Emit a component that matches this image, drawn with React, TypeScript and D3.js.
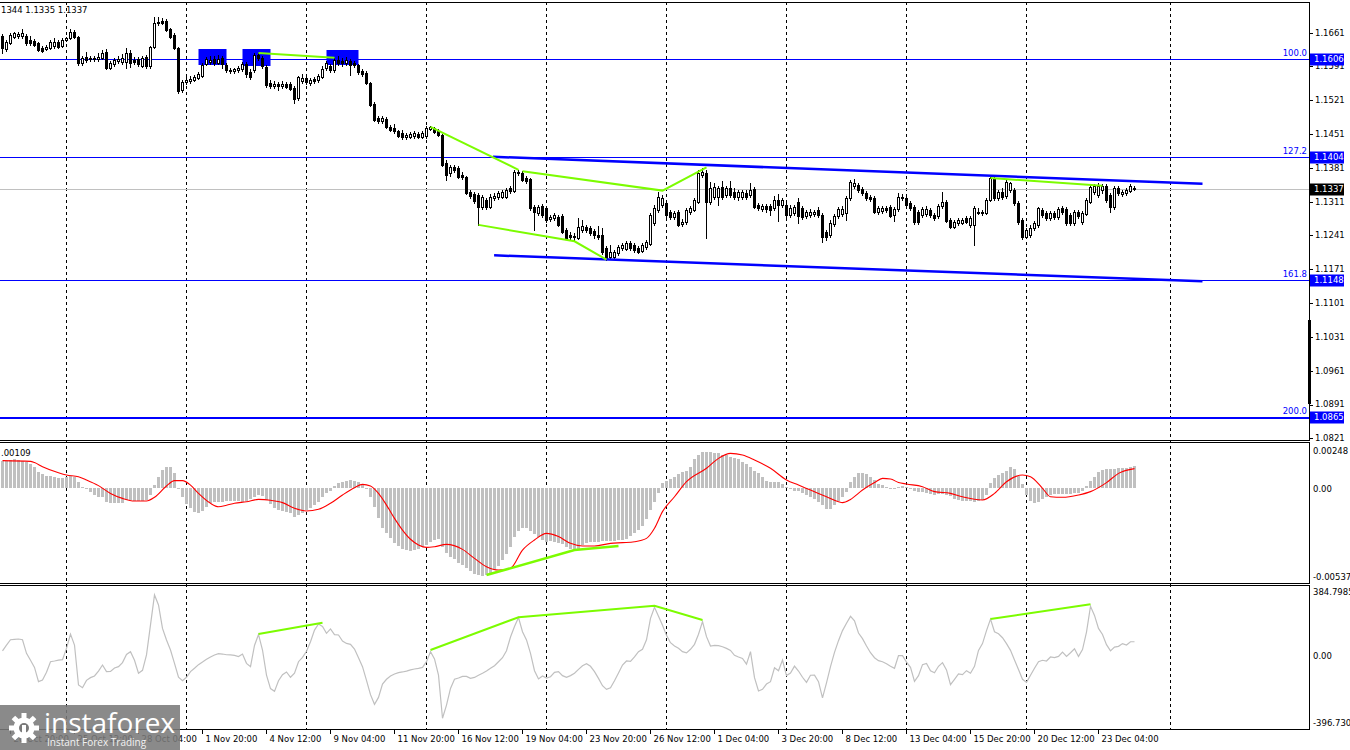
import React from 'react';
import * as d3 from 'd3';

// ---------------- DATA ----------------
const openP = [
1.1654,1.1628,1.1640,1.1652,1.1654,1.1654,1.1654,1.1646,1.1644,1.1640,
1.1630,1.1628,1.1630,1.1634,1.1642,1.1634,1.1646,1.1650,1.1663,1.1652,
1.1599,1.1611,1.1607,1.1609,1.1607,1.1609,1.1621,1.1588,1.1597,1.1603,
1.1601,1.1601,1.1619,1.1605,1.1607,1.1592,1.1611,1.1592,1.1632,1.1681,
1.1686,1.1686,1.1669,1.1657,1.1630,1.1543,1.1559,1.1561,1.1563,1.1568,
1.1572,1.1597,1.1601,1.1607,1.1599,1.1609,1.1594,1.1584,1.1582,1.1584,
1.1586,1.1597,1.1580,1.1584,1.1615,1.1609,1.1590,1.1557,1.1551,1.1555,
1.1551,1.1555,1.1555,1.1547,1.1526,1.1561,1.1568,1.1557,1.1565,1.1563,
1.1570,1.1588,1.1592,1.1584,1.1605,1.1603,1.1599,1.1603,1.1599,1.1594,
1.1582,1.1578,1.1557,1.1514,1.1485,1.1479,1.1483,1.1466,1.1464,1.1458,
1.1454,1.1445,1.1445,1.1447,1.1452,1.1445,1.1447,1.1462,1.1464,1.1458,
1.1450,1.1392,1.1371,1.1383,1.1381,1.1367,1.1363,1.1332,1.1327,1.1325,
1.1301,1.1315,1.1301,1.1319,1.1321,1.1321,1.1321,1.1340,1.1334,1.1373,
1.1371,1.1361,1.1358,1.1301,1.1288,1.1303,1.1298,1.1276,1.1278,1.1280,
1.1282,1.1253,1.1243,1.1238,1.1236,1.1253,1.1259,1.1257,1.1251,1.1243,
1.1243,1.1216,1.1197,1.1197,1.1205,1.1216,1.1214,1.1226,1.1222,1.1216,
1.1209,1.1218,1.1224,1.1267,1.1294,1.1305,1.1309,1.1290,1.1280,1.1290,
1.1265,1.1269,1.1290,1.1294,1.1311,1.1367,1.1371,1.1311,1.1321,1.1321,
1.1342,1.1325,1.1340,1.1332,1.1321,1.1321,1.1329,1.1325,1.1338,1.1305,
1.1296,1.1303,1.1303,1.1298,1.1315,1.1305,1.1305,1.1284,1.1288,1.1311,
1.1298,1.1282,1.1284,1.1286,1.1294,1.1284,1.1249,1.1243,1.1265,1.1282,
1.1286,1.1288,1.1319,1.1344,1.1346,1.1338,1.1329,1.1321,1.1319,1.1290,
1.1292,1.1298,1.1301,1.1284,1.1296,1.1321,1.1319,1.1309,1.1301,1.1290,
1.1284,1.1286,1.1294,1.1284,1.1282,1.1303,1.1311,1.1274,1.1259,1.1267,
1.1267,1.1278,1.1263,1.1263,1.1288,1.1288,1.1288,1.1315,1.1361,1.1319,
1.1332,1.1323,1.1336,1.1336,1.1309,1.1274,1.1238,1.1243,1.1257,1.1263,
1.1294,1.1288,1.1278,1.1288,1.1280,1.1298,1.1296,1.1284,1.1267,1.1290,
1.1269,1.1286,1.1311,1.1332,1.1325,1.1336,1.1344,1.1325,1.1301,1.1340,
1.1327,1.1329,1.1334,1.1340
];
const highP = [
1.1659,1.1646,1.1661,1.1663,1.1663,1.1669,1.1659,1.1654,1.1648,1.1642,
1.1634,1.1636,1.1646,1.1650,1.1646,1.1650,1.1652,1.1669,1.1667,1.1654,
1.1613,1.1621,1.1613,1.1613,1.1619,1.1626,1.1628,1.1603,1.1609,1.1613,
1.1617,1.1630,1.1626,1.1611,1.1611,1.1613,1.1615,1.1634,1.1694,1.1694,
1.1692,1.1690,1.1671,1.1661,1.1632,1.1563,1.1570,1.1572,1.1574,1.1580,
1.1599,1.1611,1.1613,1.1613,1.1615,1.1613,1.1599,1.1588,1.1588,1.1592,
1.1601,1.1601,1.1586,1.1619,1.1619,1.1613,1.1594,1.1563,1.1561,1.1559,
1.1561,1.1559,1.1559,1.1551,1.1572,1.1576,1.1574,1.1568,1.1570,1.1576,
1.1592,1.1603,1.1597,1.1609,1.1613,1.1609,1.1611,1.1607,1.1603,1.1597,
1.1586,1.1582,1.1559,1.1518,1.1489,1.1489,1.1487,1.1470,1.1472,1.1460,
1.1460,1.1454,1.1456,1.1458,1.1456,1.1458,1.1468,1.1468,1.1466,1.1462,
1.1452,1.1398,1.1387,1.1387,1.1385,1.1373,1.1365,1.1336,1.1332,1.1329,
1.1325,1.1319,1.1327,1.1329,1.1334,1.1336,1.1340,1.1344,1.1377,1.1377,
1.1375,1.1365,1.1361,1.1305,1.1305,1.1307,1.1301,1.1284,1.1288,1.1284,
1.1286,1.1257,1.1249,1.1247,1.1278,1.1274,1.1263,1.1261,1.1255,1.1261,
1.1257,1.1220,1.1222,1.1212,1.1222,1.1226,1.1230,1.1230,1.1226,1.1220,
1.1226,1.1232,1.1288,1.1305,1.1332,1.1325,1.1315,1.1294,1.1292,1.1294,
1.1276,1.1298,1.1303,1.1319,1.1377,1.1381,1.1377,1.1352,1.1350,1.1344,
1.1354,1.1344,1.1354,1.1340,1.1336,1.1336,1.1336,1.1350,1.1342,1.1309,
1.1307,1.1307,1.1307,1.1323,1.1327,1.1319,1.1309,1.1305,1.1305,1.1319,
1.1303,1.1294,1.1296,1.1294,1.1301,1.1288,1.1253,1.1274,1.1286,1.1301,
1.1303,1.1323,1.1356,1.1358,1.1350,1.1342,1.1334,1.1325,1.1323,1.1303,
1.1303,1.1303,1.1305,1.1301,1.1329,1.1327,1.1323,1.1313,1.1305,1.1294,
1.1301,1.1303,1.1298,1.1288,1.1307,1.1332,1.1315,1.1278,1.1274,1.1278,
1.1278,1.1282,1.1282,1.1303,1.1298,1.1294,1.1319,1.1363,1.1365,1.1336,
1.1340,1.1356,1.1352,1.1340,1.1313,1.1278,1.1257,1.1263,1.1272,1.1301,
1.1298,1.1292,1.1292,1.1292,1.1301,1.1303,1.1301,1.1288,1.1294,1.1294,
1.1292,1.1319,1.1348,1.1348,1.1350,1.1348,1.1348,1.1329,1.1344,1.1344,
1.1336,1.1340,1.1348,1.1344
];
const lowP = [
1.1619,1.1623,1.1638,1.1650,1.1650,1.1650,1.1636,1.1636,1.1634,1.1623,
1.1621,1.1626,1.1628,1.1630,1.1630,1.1632,1.1644,1.1648,1.1650,1.1594,
1.1594,1.1601,1.1603,1.1603,1.1603,1.1607,1.1586,1.1586,1.1592,1.1599,
1.1597,1.1588,1.1590,1.1597,1.1592,1.1590,1.1588,1.1588,1.1630,1.1677,
1.1679,1.1665,1.1650,1.1628,1.1536,1.1539,1.1555,1.1557,1.1561,1.1565,
1.1570,1.1594,1.1597,1.1594,1.1597,1.1588,1.1580,1.1578,1.1578,1.1580,
1.1582,1.1570,1.1565,1.1580,1.1605,1.1588,1.1549,1.1547,1.1547,1.1543,
1.1547,1.1547,1.1543,1.1516,1.1522,1.1557,1.1555,1.1553,1.1557,1.1559,
1.1568,1.1584,1.1580,1.1580,1.1594,1.1592,1.1594,1.1574,1.1590,1.1576,
1.1572,1.1555,1.1510,1.1479,1.1474,1.1474,1.1464,1.1458,1.1454,1.1445,
1.1441,1.1441,1.1443,1.1443,1.1443,1.1443,1.1443,1.1460,1.1454,1.1447,
1.1385,1.1356,1.1365,1.1373,1.1361,1.1358,1.1327,1.1319,1.1309,1.1263,
1.1296,1.1296,1.1298,1.1315,1.1317,1.1319,1.1319,1.1329,1.1332,1.1367,
1.1354,1.1350,1.1294,1.1253,1.1284,1.1280,1.1269,1.1272,1.1274,1.1261,
1.1247,1.1234,1.1234,1.1232,1.1234,1.1249,1.1249,1.1243,1.1236,1.1234,
1.1203,1.1191,1.1193,1.1195,1.1201,1.1212,1.1212,1.1212,1.1207,1.1205,
1.1207,1.1214,1.1222,1.1263,1.1290,1.1301,1.1280,1.1276,1.1276,1.1261,
1.1261,1.1265,1.1286,1.1292,1.1309,1.1363,1.1236,1.1307,1.1317,1.1305,
1.1317,1.1321,1.1321,1.1317,1.1315,1.1317,1.1317,1.1321,1.1298,1.1294,
1.1292,1.1290,1.1284,1.1294,1.1272,1.1301,1.1280,1.1280,1.1284,1.1267,
1.1276,1.1278,1.1280,1.1282,1.1280,1.1228,1.1232,1.1238,1.1261,1.1278,
1.1282,1.1274,1.1315,1.1340,1.1332,1.1325,1.1315,1.1313,1.1288,1.1286,
1.1288,1.1290,1.1280,1.1272,1.1292,1.1315,1.1301,1.1294,1.1265,1.1265,
1.1280,1.1282,1.1280,1.1274,1.1278,1.1298,1.1269,1.1257,1.1257,1.1263,
1.1265,1.1267,1.1259,1.1222,1.1286,1.1284,1.1286,1.1313,1.1315,1.1315,
1.1317,1.1319,1.1332,1.1305,1.1265,1.1234,1.1236,1.1238,1.1253,1.1259,
1.1280,1.1274,1.1274,1.1276,1.1276,1.1286,1.1263,1.1263,1.1263,1.1278,
1.1265,1.1284,1.1309,1.1327,1.1321,1.1329,1.1311,1.1290,1.1296,1.1325,
1.1323,1.1325,1.1332,1.1335
];
const closeP = [
1.1630,1.1642,1.1657,1.1661,1.1659,1.1661,1.1640,1.1640,1.1636,1.1626,
1.1623,1.1632,1.1642,1.1642,1.1632,1.1646,1.1650,1.1663,1.1652,1.1599,
1.1609,1.1605,1.1609,1.1607,1.1611,1.1619,1.1588,1.1599,1.1605,1.1607,
1.1609,1.1619,1.1599,1.1601,1.1597,1.1609,1.1592,1.1632,1.1681,1.1683,
1.1681,1.1667,1.1652,1.1630,1.1541,1.1559,1.1563,1.1565,1.1570,1.1576,
1.1594,1.1607,1.1605,1.1599,1.1607,1.1597,1.1584,1.1582,1.1586,1.1588,
1.1597,1.1576,1.1570,1.1615,1.1609,1.1592,1.1553,1.1551,1.1555,1.1551,
1.1555,1.1549,1.1545,1.1524,1.1570,1.1568,1.1559,1.1563,1.1561,1.1572,
1.1586,1.1599,1.1584,1.1605,1.1599,1.1599,1.1605,1.1594,1.1594,1.1580,
1.1576,1.1557,1.1512,1.1481,1.1479,1.1485,1.1466,1.1460,1.1458,1.1447,
1.1445,1.1450,1.1452,1.1454,1.1445,1.1454,1.1464,1.1466,1.1456,1.1450,
1.1387,1.1367,1.1383,1.1377,1.1363,1.1363,1.1329,1.1323,1.1313,1.1301,
1.1321,1.1301,1.1321,1.1323,1.1329,1.1332,1.1336,1.1334,1.1373,1.1371,
1.1356,1.1354,1.1298,1.1290,1.1301,1.1284,1.1274,1.1280,1.1284,1.1263,
1.1249,1.1236,1.1238,1.1240,1.1259,1.1261,1.1253,1.1247,1.1243,1.1238,
1.1207,1.1195,1.1207,1.1207,1.1218,1.1222,1.1226,1.1216,1.1212,1.1207,
1.1222,1.1228,1.1284,1.1298,1.1321,1.1319,1.1284,1.1280,1.1288,1.1263,
1.1269,1.1294,1.1298,1.1315,1.1371,1.1373,1.1311,1.1340,1.1342,1.1340,
1.1321,1.1340,1.1325,1.1321,1.1332,1.1332,1.1321,1.1336,1.1301,1.1298,
1.1303,1.1296,1.1294,1.1315,1.1305,1.1315,1.1284,1.1298,1.1301,1.1282,
1.1280,1.1290,1.1290,1.1290,1.1284,1.1238,1.1238,1.1267,1.1282,1.1296,
1.1296,1.1319,1.1352,1.1350,1.1336,1.1329,1.1319,1.1317,1.1290,1.1298,
1.1298,1.1294,1.1282,1.1296,1.1321,1.1319,1.1305,1.1298,1.1269,1.1269,
1.1296,1.1296,1.1284,1.1278,1.1303,1.1311,1.1272,1.1259,1.1269,1.1274,
1.1274,1.1269,1.1278,1.1298,1.1290,1.1290,1.1315,1.1361,1.1319,1.1332,
1.1321,1.1352,1.1350,1.1309,1.1269,1.1238,1.1253,1.1257,1.1267,1.1298,
1.1284,1.1278,1.1288,1.1280,1.1296,1.1290,1.1267,1.1267,1.1290,1.1282,
1.1288,1.1315,1.1342,1.1344,1.1344,1.1344,1.1315,1.1301,1.1340,1.1329,
1.1332,1.1336,1.1344,1.1337
];

const macdHist = [
0.00152,0.00154,0.00156,0.00161,0.00158,0.00154,0.00148,0.00135,0.00116,0.00092,
0.00079,0.00067,0.00067,0.00063,0.00058,0.00058,0.00063,0.00067,0.00060,0.00035,
0.00007,-0.00008,-0.00021,-0.00040,-0.00050,-0.00053,-0.00078,-0.00083,-0.00083,-0.00087,
-0.00087,-0.00068,-0.00068,-0.00074,-0.00072,-0.00072,-0.00068,-0.00040,0.00016,0.00063,
0.00101,0.00120,0.00116,0.00086,0.00001,-0.00050,-0.00091,-0.00115,-0.00134,-0.00144,
-0.00131,-0.00106,-0.00087,-0.00080,-0.00078,-0.00078,-0.00076,-0.00074,-0.00074,-0.00076,
-0.00078,-0.00072,-0.00065,-0.00050,-0.00040,-0.00046,-0.00068,-0.00091,-0.00115,-0.00125,
-0.00131,-0.00134,-0.00144,-0.00166,-0.00153,-0.00140,-0.00125,-0.00115,-0.00097,-0.00078,
-0.00050,-0.00031,-0.00016,0.00011,0.00026,0.00035,0.00041,0.00045,0.00041,0.00033,
0.00022,-0.00002,-0.00050,-0.00106,-0.00172,-0.00228,-0.00253,-0.00285,-0.00309,-0.00328,
-0.00343,-0.00351,-0.00356,-0.00351,-0.00343,-0.00332,-0.00321,-0.00304,-0.00294,-0.00289,
-0.00336,-0.00370,-0.00388,-0.00403,-0.00422,-0.00435,-0.00450,-0.00469,-0.00484,-0.00492,
-0.00498,-0.00494,-0.00479,-0.00464,-0.00439,-0.00407,-0.00373,-0.00332,-0.00279,-0.00245,
-0.00227,-0.00228,-0.00245,-0.00260,-0.00277,-0.00294,-0.00304,-0.00302,-0.00304,-0.00309,
-0.00319,-0.00336,-0.00347,-0.00351,-0.00343,-0.00321,-0.00311,-0.00307,-0.00304,-0.00304,
-0.00300,-0.00300,-0.00300,-0.00298,-0.00296,-0.00292,-0.00287,-0.00274,-0.00257,-0.00240,
-0.00215,-0.00178,-0.00125,-0.00078,-0.00027,0.00026,0.00041,0.00048,0.00060,0.00077,
0.00088,0.00097,0.00120,0.00161,0.00186,0.00203,0.00205,0.00201,0.00199,0.00195,
0.00186,0.00184,0.00176,0.00169,0.00161,0.00148,0.00135,0.00120,0.00097,0.00082,
0.00063,0.00041,0.00035,0.00035,0.00033,0.00022,0.00005,-0.00008,-0.00016,-0.00019,
-0.00027,-0.00040,-0.00053,-0.00063,-0.00082,-0.00097,-0.00119,-0.00117,-0.00097,-0.00072,
-0.00050,-0.00021,0.00035,0.00063,0.00082,0.00082,0.00079,0.00063,0.00043,0.00024,
0.00014,0.00003,-0.00006,-0.00004,0.00005,0.00009,0.00007,-0.00004,-0.00016,-0.00021,
-0.00025,-0.00029,-0.00036,-0.00038,-0.00034,-0.00036,-0.00040,-0.00048,-0.00061,-0.00068,
-0.00072,-0.00074,-0.00076,-0.00078,-0.00074,-0.00070,-0.00040,0.00026,0.00056,0.00071,
0.00086,0.00097,0.00118,0.00105,0.00067,0.00022,-0.00040,-0.00072,-0.00083,-0.00078,
-0.00065,-0.00051,-0.00042,-0.00034,-0.00033,-0.00034,-0.00036,-0.00034,-0.00031,-0.00027,
-0.00018,0.00011,0.00037,0.00060,0.00088,0.00101,0.00105,0.00105,0.00109,0.00112,
0.00114,0.00114,0.00120,0.00124
];

const signalBars = [0,7,8,10,14,16,19,21,24,27,30,33,36,38,41,43,45,47,49,52,54,56,58,61,64,67,70,73,76,79,82,85,88,90,92,94,96,98,100,102,104,106,108,111,115,118,121,124,127,130,133,136,139,142,145,148,152,155,158,161,163,165,168,171,176,179,182,185,188,192,196,199,202,206,209,210,212,215,218,220,222,224,226,230,233,237,240,245,248,251,255,257,260,262,265,269,272,276,279,283];
const signalVals = [0.00154,0.00150,0.00143,0.00120,0.00086,0.00073,0.00063,0.00045,0.00013,-0.00031,-0.00059,-0.00074,-0.00074,-0.00053,0.00011,0.00041,0.00041,0.00016,-0.00031,-0.00087,-0.00106,-0.00098,-0.00087,-0.00078,-0.00065,-0.00070,-0.00083,-0.00115,-0.00130,-0.00121,-0.00087,-0.00040,0.00001,0.00020,0.00011,-0.00031,-0.00097,-0.00172,-0.00238,-0.00290,-0.00322,-0.00336,-0.00332,-0.00319,-0.00347,-0.00398,-0.00445,-0.00464,-0.00454,-0.00351,-0.00294,-0.00257,-0.00275,-0.00313,-0.00328,-0.00328,-0.00313,-0.00309,-0.00304,-0.00285,-0.00228,-0.00134,-0.00050,0.00035,0.00111,0.00167,0.00195,0.00186,0.00158,0.00111,0.00045,0.00016,-0.00012,-0.00050,-0.00078,-0.00083,-0.00065,-0.00012,0.00030,0.00054,0.00050,0.00031,0.00022,0.00007,-0.00021,-0.00031,-0.00050,-0.00068,-0.00031,0.00035,0.00073,0.00063,-0.00002,-0.00050,-0.00053,-0.00040,-0.00021,0.00030,0.00082,0.00109];

const cciVals = [
30,62,91,93,95,91,17,-21,-60,-138,
-129,-87,-29,-25,-20,-18,44,122,62,-156,
-171,-131,-116,-107,-80,-47,-83,-82,-63,-56,
-34,11,26,-21,-92,-76,8,172,336,281,
153,90,35,-38,-114,-133,-114,-83,-65,-45,
-31,-16,-3,8,15,13,9,8,6,-1,
13,-38,-56,60,120,35,-102,-176,-191,-133,
-100,-85,-114,-92,-29,-5,28,80,144,177,
164,126,150,119,117,84,71,66,40,-7,
-56,-131,-209,-262,-224,-151,-125,-107,-96,-89,
-85,-80,-74,-69,-65,-60,-29,26,-14,-102,
-338,-266,-175,-125,-118,-109,-109,-120,-115,-103,
-92,-80,-65,-51,-29,-7,31,106,163,212,
135,90,17,-78,-123,-107,-118,-111,-87,-83,
-105,-114,-105,-92,-71,-51,-40,-54,-83,-120,
-160,-180,-171,-133,-91,-47,-25,-27,-3,26,
39,91,208,268,219,170,115,75,57,44,
26,19,39,66,121,190,108,57,60,59,
53,44,33,6,-3,-11,-42,26,-116,-189,
-180,-151,-138,-62,-78,-20,-105,-91,-53,-80,
-114,-142,-103,-102,-138,-227,-145,-56,22,86,
141,181,219,195,128,97,57,20,-7,-23,
-29,-40,-54,-65,4,4,-31,-60,-136,-105,
-45,-38,-78,-89,-54,-34,-74,-154,-125,-96,
-100,-78,-92,-54,33,70,141,204,135,124,
102,70,33,-20,-72,-125,-142,-103,-65,-29,
-21,-25,-3,-7,0,24,0,20,42,0,
37,133,274,224,153,120,64,30,51,55,
70,62,80,80
];

const priceTicks = [1.1661,1.1591,1.1521,1.1451,1.1381,1.1311,1.1241,1.1171,1.1101,1.1031,1.0961,1.0891,1.0821];
const fiboNames = ['100.0','127.2','161.8','200.0'];
const fiboPrices = [1.1606,1.1404,1.1148,1.0865];
const lastPrice = 1.1337;
const ohlcText = '1344 1.1335 1.1337';
const macdText = '.00109';
const macdRange = [-0.00537, 0.00248];
const macdLabels = ['0.00248','0.00','-0.00537'];
const cciRange = [-396.73, 384.7985];
const cciLabels = ['384.7985','0.00','-396.730'];

const timeLabelBars = [2,18,34,50,66,82,98,114,130,146,162,178,194,210,226,242,258,274];
const timeLabels = ['20 Oct 20:00','25 Oct 12:00','28 Oct 04:00','1 Nov 20:00','4 Nov 12:00','9 Nov 04:00','11 Nov 20:00','16 Nov 12:00','19 Nov 04:00','23 Nov 20:00','26 Nov 12:00','1 Dec 04:00','3 Dec 20:00','8 Dec 12:00','13 Dec 04:00','15 Dec 20:00','20 Dec 12:00','23 Dec 04:00'];
const gridBars = [16,46,76,106,136,166,196,226,256,292];

const boxStartBars = [49,60,81];
const boxEndBars = [56,67,89];
const boxTopP = [1.1628,1.1628,1.1626];
const boxBottomP = [1.1594,1.1592,1.1594];

const greenPriceLines: [number, number][][] = [
  [[64,1.1619],[83,1.1609]],
  [[107,1.1466],[129,1.1377]],
  [[130,1.1374],[165,1.1334],[176,1.1382]],
  [[119,1.1263],[143,1.1229],[151,1.1191]],
  [[247,1.1360],[275,1.1344]],
];
const channelUpper: [number, number][] = [[122.6,1.1404],[300,1.1348]];
const channelLower: [number, number][] = [[122.9,1.1200],[300,1.1146]];
const greenMacd: [number, number][] = [[121,-0.00492],[143,-0.00351],[154,-0.00328]];
const greenCci: [number, number][][] = [
  [[64,122],[80,184]],
  [[107,35],[129,214],[163,277],[175,199]],
  [[247,204],[272,285]],
];
const axisMarkerP = [1.1066, 1.0892];

// ---------------- CHART ----------------
const FONT = "'DejaVu Sans', Verdana, sans-serif";
const R = 1309; // right edge of plot area
const MAIN = { top: 2, bottom: 440 };
const MACD = { top: 442, bottom: 583 };
const CCI = { top: 585, bottom: 729 };

export default function App() {
  const x = d3.scaleLinear().domain([0, 1]).range([2.5, 6.5]);
  const yP = d3.scaleLinear().domain([priceTicks[priceTicks.length - 1], priceTicks[0]]).range([438.3, 32.7]);
  const yM = d3.scaleLinear().domain(macdRange).range([MACD.bottom, MACD.top + 2]);
  const yC = d3.scaleLinear().domain(cciRange).range([CCI.bottom, CCI.top + 1]);
  const bars = d3.range(closeP.length);

  const priceLine = d3.line<[number, number]>().x(d => x(d[0])).y(d => yP(d[1]));
  const macdLine = d3.line<[number, number]>().x(d => x(d[0])).y(d => yM(d[1]));
  const cciLine = d3.line<[number, number]>().x(d => x(d[0])).y(d => yC(d[1]));
  const signalPath = d3.line<number>().x((_, i) => x(signalBars[i])).y(d => yM(d)).curve(d3.curveMonotoneX)(signalVals);
  const cciPath = d3.line<number>().x((_, i) => x(i)).y(d => yC(d))(cciVals);
  const zeroM = Math.round(yM(0));

  const crisp = (v: number) => Math.round(v) + 0.5;

  return (
    <svg width={1350} height={750} style={{ position: 'fixed', left: 0, top: 0, background: '#fff' }} fontFamily={FONT}>
      <defs>
        <clipPath id="clipMain"><rect x={0} y={MAIN.top + 1} width={R} height={MAIN.bottom - MAIN.top - 1} /></clipPath>
        <clipPath id="clipMacd"><rect x={0} y={MACD.top + 1} width={R} height={MACD.bottom - MACD.top - 1} /></clipPath>
        <clipPath id="clipCci"><rect x={0} y={CCI.top + 1} width={R} height={CCI.bottom - CCI.top - 1} /></clipPath>
      </defs>
      <rect x={0} y={0} width={1350} height={750} fill="#fff" />

      {/* grid */}
      {gridBars.map(b => (
        <line key={'g' + b} x1={x(b)} x2={x(b)} y1={MAIN.top} y2={CCI.bottom} stroke="#000" strokeDasharray="3,3" shapeRendering="crispEdges" />
      ))}

      {/* ---------- main panel ---------- */}
      <g clipPath="url(#clipMain)">
        {fiboPrices.map((p, i) => (
          <line key={'f' + i} x1={0} x2={R} y1={crisp(yP(p))} y2={crisp(yP(p))} stroke="#0000ff" strokeWidth={i === 3 ? 2 : 1} shapeRendering="crispEdges" />
        ))}
        <line x1={0} x2={R} y1={crisp(yP(lastPrice))} y2={crisp(yP(lastPrice))} stroke="#c0c0c0" shapeRendering="crispEdges" />
        {boxStartBars.map((b, i) => (
          <rect key={'bx' + i} x={x(b)} y={Math.round(yP(boxTopP[i]))} width={x(boxEndBars[i]) - x(b)} height={Math.round(yP(boxBottomP[i]) - yP(boxTopP[i]))} fill="#0000ff" />
        ))}
        <g shapeRendering="crispEdges">
          {bars.map(i => {
            const c = x(i);
            const o = yP(openP[i]), cl = yP(closeP[i]);
            const top = Math.round(Math.min(o, cl));
            const bot = Math.round(Math.max(o, cl));
            const up = closeP[i] >= openP[i];
            return (
              <g key={'c' + i}>
                <line x1={c} x2={c} y1={Math.round(yP(highP[i]))} y2={Math.round(yP(lowP[i])) + 1} stroke="#000" />
                {up
                  ? <rect x={c - 1} y={top + 0.5} width={2} height={Math.max(bot - top, 1)} fill="#fff" stroke="#000" />
                  : <rect x={c - 1.5} y={top} width={3} height={Math.max(bot - top, 1) + 1} fill="#000" />}
              </g>
            );
          })}
        </g>
        <path d={priceLine(channelUpper) || ''} stroke="#0000ff" strokeWidth={2.5} fill="none" />
        <path d={priceLine(channelLower) || ''} stroke="#0000ff" strokeWidth={2.5} fill="none" />
        {greenPriceLines.map((ln, i) => (
          <path key={'gl' + i} d={priceLine(ln) || ''} stroke="#7cfc00" strokeWidth={2} fill="none" />
        ))}
      </g>
      {fiboPrices.map((p, i) => (
        <text key={'fn' + i} x={R - 2} y={Math.round(yP(p)) - 3} fontSize={8.5} fill="#0000ff" textAnchor="end">{fiboNames[i]}</text>
      ))}
      <text x={1} y={13} fontSize={8.5} fill="#000">{ohlcText}</text>

      {/* ---------- MACD panel ---------- */}
      <g clipPath="url(#clipMacd)">
        <g shapeRendering="crispEdges">
          {macdHist.map((v, i) => {
            const yv = Math.round(yM(v));
            return <rect key={'h' + i} x={x(i) - 1.5} y={Math.min(yv, zeroM)} width={3} height={Math.max(Math.abs(yv - zeroM), 1)} fill="#c0c0c0" />;
          })}
        </g>
        <path d={signalPath || ''} stroke="#ff0000" strokeWidth={1.1} fill="none" />
        <path d={macdLine(greenMacd) || ''} stroke="#7cfc00" strokeWidth={2.5} fill="none" />
      </g>
      <text x={1} y={456} fontSize={8.5} fill="#000">{macdText}</text>

      {/* ---------- CCI panel ---------- */}
      <g clipPath="url(#clipCci)">
        <path d={cciPath || ''} stroke="#c0c0c0" strokeWidth={1.2} fill="none" />
        {greenCci.map((ln, i) => (
          <path key={'gc' + i} d={cciLine(ln) || ''} stroke="#7cfc00" strokeWidth={2} fill="none" />
        ))}
      </g>

      {/* ---------- panel frames ---------- */}
      <g stroke="#000" shapeRendering="crispEdges" fill="none">
        {[MAIN, MACD, CCI].map((p, i) => (
          <g key={'fr' + i}>
            <line x1={0} x2={R + 1} y1={p.top + 0.5} y2={p.top + 0.5} />
            <line x1={0} x2={R + 1} y1={p.bottom + 0.5} y2={p.bottom + 0.5} />
            <line x1={R + 0.5} x2={R + 0.5} y1={p.top} y2={p.bottom + 1} />
          </g>
        ))}
      </g>

      {/* ---------- right price axis ---------- */}
      {priceTicks.map(p => (
        <g key={'pt' + p}>
          <line x1={R + 1} x2={R + 4} y1={crisp(yP(p))} y2={crisp(yP(p))} stroke="#000" shapeRendering="crispEdges" />
          <text x={1315} y={yP(p)} dy="0.35em" fontSize={8.5} fill="#000">{p.toFixed(4)}</text>
        </g>
      ))}
      {fiboPrices.map((p, i) => (
        <g key={'tag' + i}>
          <rect x={R + 1} y={Math.round(yP(p)) - 5.5} width={34} height={12} fill="#0000ff" />
          <text x={1314} y={Math.round(yP(p)) + 0.5} dy="0.35em" fontSize={8.5} fill="#fff">{p.toFixed(4)}</text>
        </g>
      ))}
      <rect x={R + 1} y={Math.round(yP(lastPrice)) - 5.5} width={34} height={12} fill="#000" />
      <text x={1314} y={Math.round(yP(lastPrice)) + 0.5} dy="0.35em" fontSize={8.5} fill="#fff">{lastPrice.toFixed(4)}</text>
      <rect x={R - 1} y={yP(axisMarkerP[0])} width={3} height={yP(axisMarkerP[1]) - yP(axisMarkerP[0])} fill="#000" />

      {/* MACD axis */}
      <text x={1313} y={yM(macdRange[1]) + 7} dy="0.35em" fontSize={8.5} fill="#000">{macdLabels[0]}</text>
      <text x={1313} y={yM(0) + 1} dy="0.35em" fontSize={8.5} fill="#000">{macdLabels[1]}</text>
      <text x={1313} y={yM(macdRange[0]) - 6} dy="0.35em" fontSize={8.5} fill="#000">{macdLabels[2]}</text>

      {/* CCI axis */}
      <text x={1313} y={yC(cciRange[1]) + 6} dy="0.35em" fontSize={8.5} fill="#000">{cciLabels[0]}</text>
      <text x={1313} y={yC(0)} dy="0.35em" fontSize={8.5} fill="#000">{cciLabels[1]}</text>
      <text x={1313} y={yC(cciRange[0]) - 6} dy="0.35em" fontSize={8.5} fill="#000">{cciLabels[2]}</text>

      {/* ---------- time axis ---------- */}
      {timeLabelBars.map((b, i) => (
        <g key={'tl' + i}>
          <line x1={x(b)} x2={x(b)} y1={CCI.bottom + 1} y2={CCI.bottom + 5} stroke="#000" shapeRendering="crispEdges" />
          <text x={x(b) + 3} y={742} fontSize={8.5} fill="#000">{timeLabels[i]}</text>
        </g>
      ))}

      {/* ---------- logo ---------- */}
      <g>
        <rect x={0} y={705} width={180} height={45} fill="#7a7a7a" opacity={0.88} />
        <g transform="translate(24,728)" fill="#fff">
          {d3.range(8).map(k => (
            <rect key={'tooth' + k} x={-2.5} y={-15} width={5} height={6} transform={`rotate(${k * 45})`} />
          ))}
          <circle r={10.5} fill="#fff" />
          <circle r={5} fill="#7a7a7a" />
          <rect x={-2} y={-3} width={4} height={14} fill="#fff" />
        </g>
        <text x={44} y={733} fontSize={28} fill="#fff" fontFamily="'Open Sans', sans-serif">instaforex</text>
        <text x={47} y={746} fontSize={10} fill="#f2f2f2" fontFamily="'Open Sans', sans-serif">Instant Forex Trading</text>
      </g>
    </svg>
  );
}
